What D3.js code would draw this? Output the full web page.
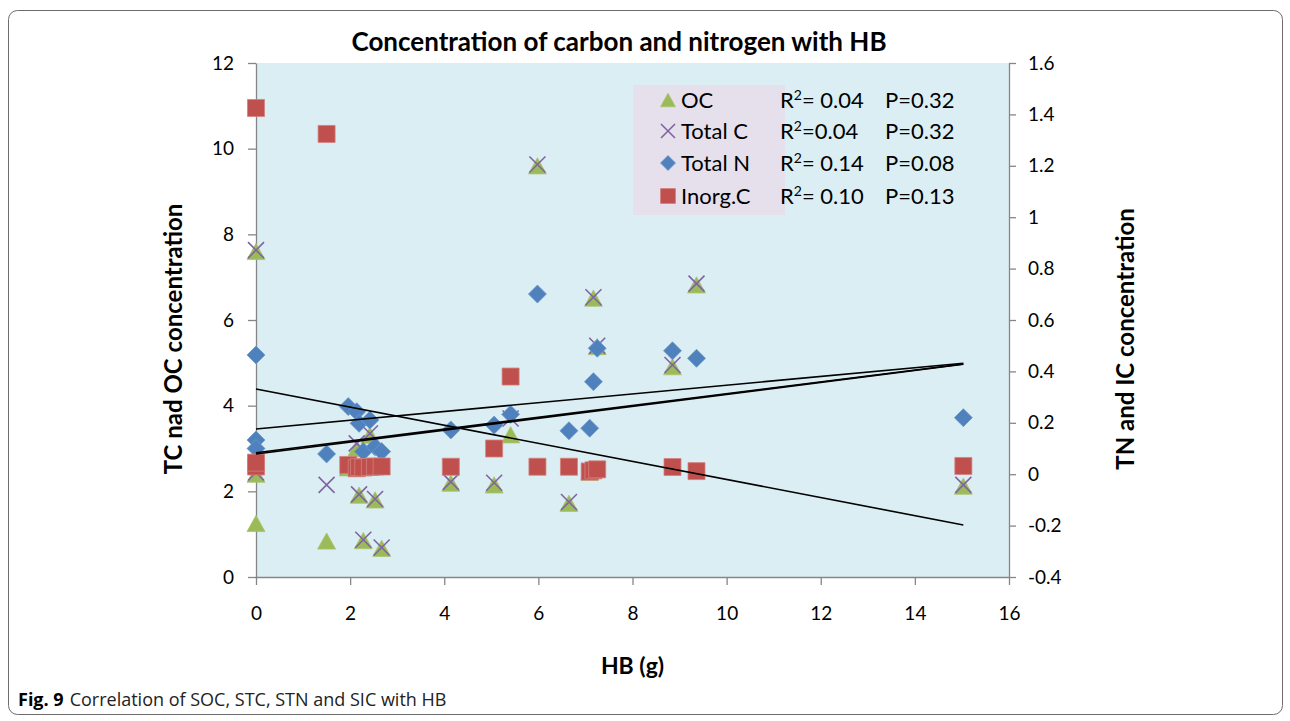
<!DOCTYPE html>
<meta charset="utf-8">
<style>
body { margin: 0; background: #fff; }
svg text { font-family: "Lato", "DejaVu Sans", sans-serif; fill: #000; }
.axis path, .axis line { stroke: #868686; stroke-width: 1.3px; }
.axis text { font-size: 19px; }
.caption { font-family: "Open Sans", sans-serif; }
</style>
<body>
<script src="https://cdnjs.cloudflare.com/ajax/libs/d3/7.8.5/d3.min.js"></script>
<script>
// samples: HB (g) and the four measured concentrations
var hb = [0, 0, 0, 1.5, 1.96, 2.14, 2.19, 2.28, 2.42, 2.53, 2.67, 4.14, 5.06, 5.41, 5.98, 6.65, 7.09, 7.17, 7.25, 8.85, 9.36, 15.03];
var oc = [7.6, 2.4, 1.25, 0.84, 2.55, 3.0, 1.91, 0.85, 3.31, 1.80, 0.67, 2.19, 2.15, 3.32, 9.6, 1.72, 2.45, 6.51, 5.38, 4.91, 6.82, 2.12];
var tc = [7.63, 2.44, 2.67, 2.15, 2.59, 3.12, 1.93, 0.87, 3.35, 1.82, 0.69, 2.22, 2.2, 3.7, 9.63, 1.75, 2.48, 6.53, 5.4, 4.95, 6.85, 2.15];
var tn = [0.464, 0.133, 0.10, 0.079, 0.263, 0.243, 0.198, 0.088, 0.211, 0.107, 0.088, 0.172, 0.191, 0.233, 0.701, 0.169, 0.179, 0.36, 0.49, 0.48, 0.451, 0.22];
var ic = [0.03, 0.045, 1.425, 1.324, 0.036, 0.023, 0.028, 0.026, 0.028, 0.03, 0.03, 0.029, 0.10, 0.38, 0.029, 0.029, 0.01, 0.015, 0.019, 0.028, 0.012, 0.032];

// linear trend lines: [intercept, slope]
var trendOC = [2.87, 0.1395];
var trendTC = [2.90, 0.1380];
var trendTN = [0.176, 0.01703];
var trendIC = [0.3315, -0.0352];

var seriesNames = ["OC", "Total C", "Total N", "Inorg.C"];
var r2Labels = ["= 0.04", "=0.04", "= 0.14", "= 0.10"];
var pLabels = ["P=0.32", "P=0.32", "P=0.08", "P=0.13"];

var xTicks = [0, 2, 4, 6, 8, 10, 12, 14, 16];
var leftTicks = [0, 2, 4, 6, 8, 10, 12];
var rightTicks = [-0.4, -0.2, 0, 0.2, 0.4, 0.6, 0.8, 1, 1.2, 1.4, 1.6];

var width = 1290, height = 721;
var plot = {left: 256, right: 1009, top: 63, bottom: 577};

var svg = d3.select("body").append("svg")
    .attr("width", width)
    .attr("height", height);

// outer figure frame
svg.append("rect")
    .attr("x", 8.5).attr("y", 10.5)
    .attr("width", 1274).attr("height", 704)
    .attr("rx", 9)
    .attr("fill", "none")
    .attr("stroke", "#6d6d6d")
    .attr("stroke-width", 1);

var x = d3.scaleLinear().domain([0, 16]).range([plot.left, plot.right]);
var yL = d3.scaleLinear().domain([0, 12]).range([plot.bottom, plot.top]);
var yR = d3.scaleLinear().domain([-0.4, 1.6]).range([plot.bottom, plot.top]);

svg.append("rect")
    .attr("x", plot.left).attr("y", plot.top)
    .attr("width", plot.right - plot.left)
    .attr("height", plot.bottom - plot.top)
    .attr("fill", "#dbeef4");

// axes
svg.append("g").attr("class", "axis")
    .attr("transform", "translate(0," + plot.bottom + ")")
    .call(d3.axisBottom(x).tickValues(xTicks).tickSize(8).tickSizeOuter(0).tickPadding(22).tickFormat(d3.format("d")));

svg.append("g").attr("class", "axis")
    .attr("transform", "translate(" + plot.left + ",0)")
    .call(d3.axisLeft(yL).tickValues(leftTicks).tickSize(8).tickSizeOuter(0).tickPadding(14).tickFormat(d3.format("d")));

svg.append("g").attr("class", "axis")
    .attr("transform", "translate(" + plot.right + ",0)")
    .call(d3.axisRight(yR).tickValues(rightTicks).tickSize(7).tickSizeOuter(0).tickPadding(12)
      .tickFormat(function(d) { return String(+d.toFixed(1)); }));

svg.selectAll(".axis .domain").attr("stroke", "#868686");
svg.selectAll(".axis text").attr("fill", "#000");

// marker shapes
function triPath(s) {
  var h = s * 0.9;
  return "M0," + (-h / 2) + "L" + (s / 2) + "," + (h / 2) + "L" + (-s / 2) + "," + (h / 2) + "Z";
}
function xPath(s) {
  var a = s / 2;
  return "M" + (-a) + "," + (-a) + "L" + a + "," + a + "M" + (-a) + "," + a + "L" + a + "," + (-a);
}
function diaPath(s) {
  var a = s / 2;
  return "M0," + (-a) + "L" + a + ",0L0," + a + "L" + (-a) + ",0Z";
}
function sqPath(s) {
  var a = s / 2;
  return "M" + (-a) + "," + (-a) + "h" + s + "v" + s + "h" + (-s) + "Z";
}

var styles = [
  {path: triPath, fill: "#9bbb59", stroke: "#a9c46e", sw: 0.8},
  {path: xPath, fill: "none", stroke: "#8064a2", sw: 1.6},
  {path: diaPath, fill: "#4f81bd", stroke: "#6f98c9", sw: 0.8},
  {path: sqPath, fill: "#c0504d", stroke: "#d4807e", sw: 0.8}
];

var values = [oc, tc, tn, ic];
var yScales = [yL, yL, yR, yR];
var markSize = [18, 16, 18, 17];

values.forEach(function(vals, k) {
  svg.append("g").selectAll("path")
      .data(hb.map(function(h, i) { return {x: h, y: vals[i]}; }))
    .enter().append("path")
      .attr("transform", function(d) { return "translate(" + x(d.x) + "," + yScales[k](d.y) + ")"; })
      .attr("d", styles[k].path(markSize[k]))
      .attr("fill", styles[k].fill)
      .attr("stroke", styles[k].stroke)
      .attr("stroke-width", styles[k].sw);
});

// trend lines
var xMax = d3.max(hb);
[[trendOC, yL], [trendTC, yL], [trendTN, yR], [trendIC, yR]].forEach(function(t) {
  var c = t[0], sc = t[1];
  svg.append("line")
      .attr("x1", x(0)).attr("y1", sc(c[0]))
      .attr("x2", x(xMax)).attr("y2", sc(c[0] + c[1] * xMax))
      .attr("stroke", "#000")
      .attr("stroke-width", 1.6);
});

// legend
svg.append("rect")
    .attr("x", 633).attr("y", 85)
    .attr("width", 152).attr("height", 130)
    .attr("fill", "#e5e0ec");

var legY = [100, 131, 163, 196];
var legSize = [15, 14, 15, 15];
seriesNames.forEach(function(name, k) {
  svg.append("path")
      .attr("transform", "translate(668," + legY[k] + ")")
      .attr("d", styles[k].path(legSize[k]))
      .attr("fill", styles[k].fill)
      .attr("stroke", styles[k].stroke)
      .attr("stroke-width", styles[k].sw);
  svg.append("text")
      .attr("x", 681).attr("y", legY[k] + 8)
      .style("font-size", "22px")
      .text(name);
  var t = svg.append("text")
      .attr("x", 780).attr("y", legY[k] + 8)
      .style("font-size", "22px");
  t.append("tspan").text("R");
  t.append("tspan").attr("dy", -8).style("font-size", "14px").text("2");
  t.append("tspan").attr("dy", 8).text(r2Labels[k]);
  svg.append("text")
      .attr("x", 885).attr("y", legY[k] + 8)
      .style("font-size", "22px")
      .text(pLabels[k]);
});

// titles
svg.append("text")
    .attr("x", 619).attr("y", 51)
    .attr("text-anchor", "middle")
    .style("font-size", "26px").style("font-weight", "bold")
    .text("Concentration of carbon and nitrogen with HB");

svg.append("text")
    .attr("transform", "translate(182,339) rotate(-90)")
    .attr("text-anchor", "middle")
    .style("font-size", "24px").style("font-weight", "bold")
    .text("TC nad OC concentration");

svg.append("text")
    .attr("transform", "translate(1134,339) rotate(-90)")
    .attr("text-anchor", "middle")
    .style("font-size", "24px").style("font-weight", "bold")
    .text("TN and IC concentration");

svg.append("text")
    .attr("x", (plot.left + plot.right) / 2).attr("y", 674)
    .attr("text-anchor", "middle")
    .style("font-size", "23px").style("font-weight", "bold")
    .text("HB (g)");

var cap = svg.append("text").attr("class", "caption")
    .attr("x", 18).attr("y", 706)
    .style("font-size", "18px");
cap.append("tspan").style("font-weight", "bold").text("Fig. 9");
cap.append("tspan").attr("dx", 6).style("fill", "#222").text("Correlation of SOC, STC, STN and SIC with HB");
</script>
</body>
